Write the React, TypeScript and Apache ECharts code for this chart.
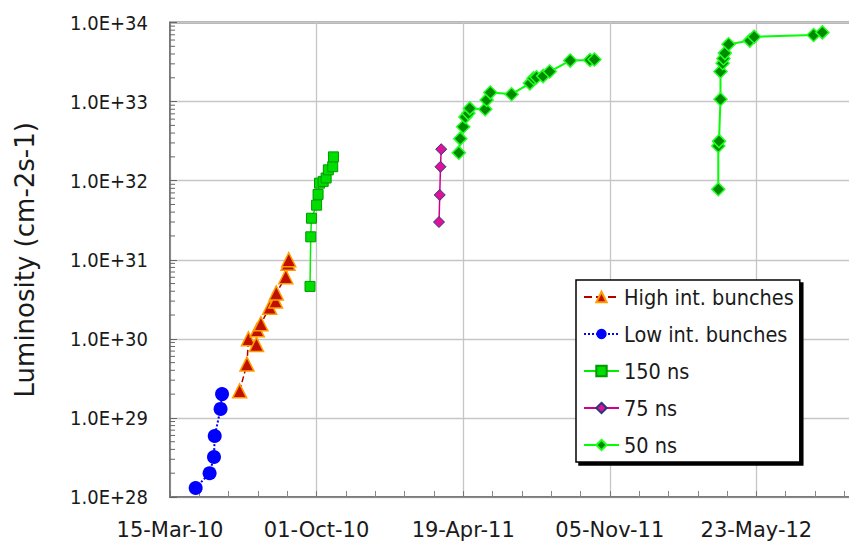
import React, { useEffect, useRef } from 'react';
import * as echarts from 'echarts';

const START_DATE = '2010-03-15';
const xTickLabels = ['15-Mar-10', '01-Oct-10', '19-Apr-11', '05-Nov-11', '23-May-12'];
const yTickLabels = ['1.0E+28', '1.0E+29', '1.0E+30', '1.0E+31', '1.0E+32', '1.0E+33', '1.0E+34'];

const seriesNames = ['High int. bunches', 'Low int. bunches', '150 ns', '75 ns', '50 ns'];

const highDates = ['2010-06-18', '2010-06-28', '2010-06-30', '2010-07-11', '2010-07-12', '2010-07-17', '2010-07-29', '2010-08-06', '2010-08-07', '2010-08-20', '2010-08-23', '2010-08-24'];
const highValues = [2.2e29, 4.8e29, 1.0e30, 8.5e29, 1.3e30, 1.55e30, 2.5e30, 3.0e30, 3.8e30, 6.1e30, 9.0e30, 1.0e31];

const lowDates = ['2010-04-19', '2010-05-08', '2010-05-14', '2010-05-15', '2010-05-23', '2010-05-25'];
const lowValues = [1.3e28, 2.0e28, 3.2e28, 5.9e28, 1.3e29, 2.0e29];

const ns150Dates = ['2010-09-22', '2010-09-23', '2010-09-24', '2010-10-01', '2010-10-03', '2010-10-05', '2010-10-10', '2010-10-14', '2010-10-17', '2010-10-23', '2010-10-24'];
const ns150Values = [4.6e30, 1.95e31, 3.35e31, 4.9e31, 6.7e31, 9.3e31, 9.8e31, 1.08e32, 1.37e32, 1.5e32, 2.0e32];

const ns75Dates = ['2011-03-17', '2011-03-18', '2011-03-19', '2011-03-20'];
const ns75Values = [3.0e31, 6.6e31, 1.5e32, 2.5e32];

const ns50Dates2011 = ['2011-04-13', '2011-04-15', '2011-04-19', '2011-04-22', '2011-04-26', '2011-04-28', '2011-05-19', '2011-05-21', '2011-05-26', '2011-06-24', '2011-07-19', '2011-07-24', '2011-07-28', '2011-08-06', '2011-08-15', '2011-09-12', '2011-10-09', '2011-10-15'];
const ns50Values2011 = [2.26e32, 3.4e32, 4.8e32, 6.4e32, 7.1e32, 8.2e32, 8.0e32, 1.05e33, 1.3e33, 1.24e33, 1.7e33, 1.97e33, 2.03e33, 2.1e33, 2.4e33, 3.3e33, 3.36e33, 3.4e33];

const ns50Dates2012 = ['2012-04-01', '2012-04-01', '2012-04-02', '2012-04-04', '2012-04-04', '2012-04-07', '2012-04-08', '2012-04-10', '2012-04-15', '2012-05-14', '2012-05-20', '2012-08-09', '2012-08-21'];
const ns50Values2012 = [7.8e31, 2.75e32, 3.16e32, 1.07e33, 2.4e33, 3.05e33, 3.5e33, 4.1e33, 5.3e33, 5.9e33, 6.6e33, 6.95e33, 7.5e33];

const minorMultipliers = [2, 3, 4, 5, 6, 7, 8, 9];
const minorDecades = [28, 29, 30, 31, 32, 33];

const FONT = 'DejaVu Sans';
const FONT_COND = "'DejaVu Sans Condensed', 'DejaVu Sans'";
const DAY_MS = 86400000;

function dayOffset(d: string): number {
  return (Date.parse(d) - Date.parse(START_DATE)) / DAY_MS;
}
function pairs(dates: string[], values: number[]): any[] {
  return dates.map((d, i) => [dayOffset(d), values[i]]);
}

export default function App() {
  const ref = useRef<HTMLDivElement>(null);
  useEffect(() => {
    if (!ref.current) return;
    const chart = echarts.init(ref.current, null, { renderer: 'svg' });
    const minorData: any[] = [];
    minorDecades.forEach((e) => minorMultipliers.forEach((m) => minorData.push([0, m * Math.pow(10, e)])));

    const option: any = {
      animation: false,
      backgroundColor: '#ffffff',
      textStyle: { fontFamily: FONT },
      grid: {
        left: 170,
        top: 22.5,
        width: 733,
        height: 474.5,
        outerBoundsMode: 'none',
        containLabel: false,
        show: true,
        borderColor: '#6b6b6b',
        borderWidth: 2,
        backgroundColor: 'transparent',
      },
      xAxis: {
        type: 'value',
        min: 0,
        max: 1000,
        interval: 200,
        axisLine: { show: true, lineStyle: { color: '#777', width: 1.5 } },
        axisTick: { show: true, inside: true, length: 6, lineStyle: { color: '#777' } },
        minorTick: { show: true, splitNumber: 5, length: 6, lineStyle: { color: '#888' } },
        splitLine: { show: true, lineStyle: { color: '#c6c6c6', width: 1.3 } },
        axisLabel: {
          margin: 22,
          fontSize: 21,
          fontFamily: FONT,
          color: '#1a1a1a',
          showMaxLabel: false,
          formatter: (v: number) => {
            const idx = Math.round(v / 200);
            return Math.abs(v - idx * 200) < 1e-6 ? xTickLabels[idx] || '' : '';
          },
        },
      },
      yAxis: {
        type: 'log',
        logBase: 10,
        min: 1e28,
        max: 1e34,
        splitNumber: 6,
        name: 'Luminosity (cm-2s-1)',
        nameLocation: 'middle',
        nameRotate: 90,
        nameGap: 132,
        nameTextStyle: { fontSize: 26, fontFamily: FONT, color: '#1a1a1a' },
        axisLine: { show: true, lineStyle: { color: '#777', width: 1.5 } },
        axisTick: { show: true, inside: true, length: 7, lineStyle: { color: '#666' } },
        splitLine: { show: true, lineStyle: { color: '#c6c6c6', width: 1.3 } },
        axisLabel: {
          margin: 22,
          fontSize: 20,
          fontFamily: FONT_COND,
          color: '#1a1a1a',
          formatter: (v: number) => {
            const e = Math.round(Math.log10(v));
            return yTickLabels[e - 28] || '';
          },
        },
      },
      legend: {
        orient: 'vertical',
        left: 576,
        top: 280,
        data: seriesNames,
        itemWidth: 35,
        itemHeight: 13,
        itemGap: 15,
        padding: [6, 6, 6, 7],
        borderColor: '#000',
        borderWidth: 1.5,
        borderRadius: 0,
        backgroundColor: '#fff',
        shadowColor: '#000',
        shadowOffsetX: 3,
        shadowOffsetY: 3,
        shadowBlur: 0,
        textStyle: { fontFamily: FONT_COND, fontSize: 21.5, color: '#1a1a1a', lineHeight: 20 },
      },
      series: [
        {
          type: 'custom',
          name: 'minorTicks',
          silent: true,
          clip: false,
          data: minorData,
          renderItem: (params: any, api: any) => {
            const p = api.coord([api.value(0), api.value(1)]);
            return {
              type: 'line',
              shape: { x1: p[0], y1: p[1], x2: p[0] + 5, y2: p[1] },
              style: { stroke: '#666', lineWidth: 1 },
            };
          },
          z: 1,
        },
        {
          type: 'line',
          name: seriesNames[0],
          data: pairs(highDates, highValues),
          symbol: 'triangle',
          symbolSize: 14,
          lineStyle: { color: '#b00000', width: 1.5, type: 'dashed' },
          itemStyle: { color: '#c01000', borderColor: '#ff9c00', borderWidth: 1.5 },
          z: 3,
        },
        {
          type: 'line',
          name: seriesNames[1],
          data: pairs(lowDates, lowValues),
          symbol: 'circle',
          symbolSize: 14,
          lineStyle: { color: '#0000ff', width: 2, type: 'dotted' },
          itemStyle: { color: '#0000ff', borderColor: '#0000ff', borderWidth: 0 },
          z: 3,
        },
        {
          type: 'line',
          name: seriesNames[2],
          data: pairs(ns150Dates, ns150Values),
          symbol: 'rect',
          symbolSize: 10,
          lineStyle: { color: '#00ee00', width: 1.5 },
          itemStyle: { color: '#00dd00', borderColor: '#009900', borderWidth: 1 },
          z: 3,
        },
        {
          type: 'line',
          name: seriesNames[3],
          data: pairs(ns75Dates, ns75Values),
          symbol: 'diamond',
          symbolSize: 11,
          lineStyle: { color: '#d0008f', width: 1.5 },
          itemStyle: { color: '#e0109a', borderColor: '#283878', borderWidth: 1 },
          z: 3,
        },
        {
          type: 'line',
          name: seriesNames[4],
          data: [...pairs(ns50Dates2011, ns50Values2011), ['-', '-'], ...pairs(ns50Dates2012, ns50Values2012)],
          connectNulls: false,
          symbol: 'diamond',
          symbolSize: 13,
          lineStyle: { color: '#00ff00', width: 2 },
          itemStyle: { color: '#008a00', borderColor: '#22ff22', borderWidth: 1.5 },
          z: 3,
        },
      ],
    };
    chart.setOption(option);
    return () => chart.dispose();
  }, []);
  return (
    <div
      ref={ref}
      style={{ position: 'fixed', left: 0, top: 0, width: 849, height: 542, background: '#fff' }}
    />
  );
}
